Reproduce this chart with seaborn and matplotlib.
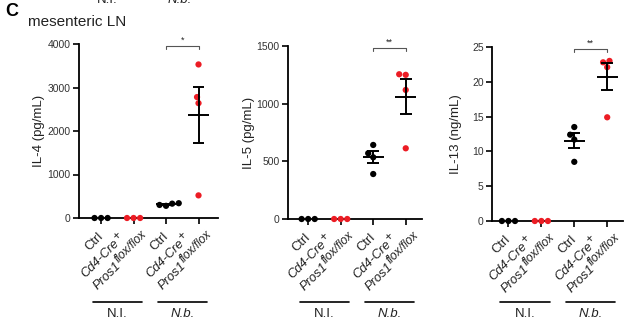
import numpy as np
import pandas as pd
import matplotlib
matplotlib.use("Agg")
import matplotlib.pyplot as plt
import matplotlib.transforms as mtransforms
import seaborn as sns

sns.set_style("ticks")
plt.rcParams["font.family"] = ["Liberation Sans", "DejaVu Sans"]

# Categories (x order) and genotype of each
categories = ["NI_Ctrl", "NI_Cre", "Nb_Ctrl", "Nb_Cre"]
genotype = ["Ctrl", "Cre", "Ctrl", "Cre"]
# tick labels as lines of (text, superscript?) pieces
ctrl_label = [[("Ctrl", False)]]
cre_label = [[("Cd4-Cre", False), ("+", True)],
             [("Pros1", False), ("flox/flox", True)]]
tick_labels = [ctrl_label, cre_label, ctrl_label, cre_label]
tick_italic = [False, True, False, True]
group_labels = ["N.I.", "N.b."]

# IL-4 (pg/mL)
il4_ni_ctrl = [0, 0, 0]
il4_ni_cre = [0, 0, 0]
il4_nb_ctrl = [330, 280, 300, 340]
il4_nb_cre = [3530, 2780, 2640, 520]

# IL-5 (pg/mL)
il5_ni_ctrl = [0, 0, 0]
il5_ni_cre = [0, 0, 0]
il5_nb_ctrl = [642, 570, 535, 390]
il5_nb_cre = [1250, 1255, 1119, 613]

# IL-13 (ng/mL)
il13_ni_ctrl = [0, 0, 0]
il13_ni_cre = [0, 0, 0]
il13_nb_ctrl = [13.5, 12.4, 11.7, 8.5]
il13_nb_cre = [22.8, 23.0, 22.1, 14.9]

panels = [
    dict(groups=[il4_ni_ctrl, il4_ni_cre, il4_nb_ctrl, il4_nb_cre],
         ylabel="IL-4 (pg/mL)", yticks=[0, 1000, 2000, 3000, 4000],
         sig="*", rect=[79, 44, 218, 218], xlim=(-0.68, 3.6), ylab_x=40),
    dict(groups=[il5_ni_ctrl, il5_ni_cre, il5_nb_ctrl, il5_nb_cre],
         ylabel="IL-5 (pg/mL)", yticks=[0, 500, 1000, 1500],
         sig="**", rect=[288, 46, 422, 219], xlim=(-0.62, 3.5), ylab_x=250),
    dict(groups=[il13_ni_ctrl, il13_ni_cre, il13_nb_ctrl, il13_nb_cre],
         ylabel="IL-13 (ng/mL)", yticks=[0, 5, 10, 15, 20, 25],
         sig="**", rect=[492, 47, 623, 221], xlim=(-0.5, 3.48), ylab_x=457),
]

W, H = 640, 322
RED = "#ec1c24"
TXT = "#222222"
FS = 9.3          # tick label size (pt)
SUP = 0.92        # superscript scale
fig = plt.figure(figsize=(W / 100, H / 100), dpi=100)
renderer = fig.canvas.get_renderer()


def text_width(s, size, italic):
    t = fig.text(0, 0, s, fontsize=size, fontstyle="italic" if italic else "normal")
    w = t.get_window_extent(renderer).width
    t.remove()
    return w


# unit vectors (display pixels, y up) along the 45-degree text and to the next line
U = np.array([np.sqrt(0.5), np.sqrt(0.5)])
V = np.array([np.sqrt(0.5), -np.sqrt(0.5)])


def draw_tick_label(ax, xpos, lines, italic):
    """Rotated, left-aligned multi-line label with near full-size superscripts."""
    base = mtransforms.blended_transform_factory(ax.transData, ax.transAxes)
    em = FS * 100 / 72
    if len(lines) == 1:
        start = np.array([-12.0, -33.0])
    else:
        start = np.array([-48.0, -60.0])
    step = 17.0
    for k, line in enumerate(lines):
        pos = start + k * step * V
        for s, sup in line:
            size = FS * SUP if sup else FS
            off = pos + (0.33 * em * (-V) if sup else 0)
            tr = mtransforms.offset_copy(base, fig=fig, x=off[0], y=off[1], units="dots")
            ax.text(xpos, 0, s, transform=tr, rotation=45, rotation_mode="anchor",
                    ha="left", va="baseline", fontsize=size, color=TXT,
                    fontstyle="italic" if italic else "normal", clip_on=False)
            pos = pos + text_width(s, size, italic) * U


for p in panels:
    x0, y0, x1, y1 = p["rect"]
    ax = fig.add_axes([x0 / W, 1 - y1 / H, (x1 - x0) / W, (y1 - y0) / H])

    rows = []
    for cat, gen, vals in zip(categories, genotype, p["groups"]):
        for v in vals:
            rows.append(dict(group=cat, genotype=gen, value=v))
    df = pd.DataFrame(rows)

    sns.swarmplot(data=df, x="group", y="value", hue="genotype",
                  order=categories, hue_order=["Ctrl", "Cre"],
                  palette={"Ctrl": "black", "Cre": RED},
                  size=4.5, linewidth=0, legend=False, ax=ax, zorder=4)
    for coll in ax.collections:
        coll.set_clip_on(False)

    # mean ± SEM
    for i, vals in enumerate(p["groups"]):
        v = np.asarray(vals, dtype=float)
        m = v.mean()
        if m == 0:
            continue
        sem = v.std(ddof=1) / np.sqrt(len(v))
        ax.hlines(m, i - 0.32, i + 0.32, color="black", lw=1.4, zorder=5)
        ax.hlines([m - sem, m + sem], i - 0.18, i + 0.18, color="black", lw=1.4, zorder=5)
        ax.vlines(i, m - sem, m + sem, color="black", lw=1.4, zorder=5)

    top = p["yticks"][-1]
    ax.set_ylim(0, top)
    ax.set_xlim(*p["xlim"])
    ax.set_yticks(p["yticks"])
    ax.set_yticklabels([str(t) for t in p["yticks"]], fontsize=7.5, color="#333333")
    ax.set_xticks(range(4))
    ax.set_xticklabels([])
    for i in range(4):
        draw_tick_label(ax, i, tick_labels[i], tick_italic[i])
    ax.set_xlabel("")
    ax.set_ylabel(p["ylabel"], fontsize=9.5, color=TXT)
    ax.yaxis.set_label_coords((p["ylab_x"] + 5 - x0) / (x1 - x0), 0.5)
    ax.tick_params(axis="both", length=4, width=1.2, color="black")
    ax.tick_params(axis="y", pad=2)
    for s in ["left", "bottom"]:
        ax.spines[s].set_linewidth(1.3)
        ax.spines[s].set_color("black")
    sns.despine(ax=ax)

    # significance bracket between the two N.b. groups
    yb = top * 0.988
    drop = top * 0.018
    ax.plot([2, 2, 3, 3], [yb - drop, yb, yb, yb - drop], color="#555555",
            lw=0.8, clip_on=False)
    ax.text(2.5, yb + top * 0.01, p["sig"], ha="center", va="bottom",
            fontsize=6.5, color=TXT)

    # infection group underlines and labels
    trans = mtransforms.blended_transform_factory(ax.transData, fig.transFigure)
    for k, (c, lab) in enumerate(zip([0.5, 2.5], group_labels)):
        ax.plot([c - 0.75, c + 0.75], [1 - 302 / H] * 2, color="black", lw=1.2,
                transform=trans, clip_on=False)
        ax.text(c, 1 - 314 / H, lab, transform=trans, ha="center", va="center",
                fontsize=9.5, color=TXT, fontstyle="italic" if k == 1 else "normal")

fig.text(5 / W, 1 - 11 / H, "C", fontsize=13, fontweight="bold", va="center",
         ha="left", color="black")
fig.text(28 / W, 1 - 22 / H, "mesenteric LN", fontsize=11, va="center",
         ha="left", color=TXT)
# group labels of the panel above, cut by the top edge
fig.text(107 / W, 1 - 3 / H, "N.I.", fontsize=9.5, ha="center", va="baseline", color=TXT)
fig.text(180 / W, 1 - 3 / H, "N.b.", fontsize=9.5, ha="center", va="baseline",
         fontstyle="italic", color=TXT)

fig.savefig("out.png", dpi=100)
